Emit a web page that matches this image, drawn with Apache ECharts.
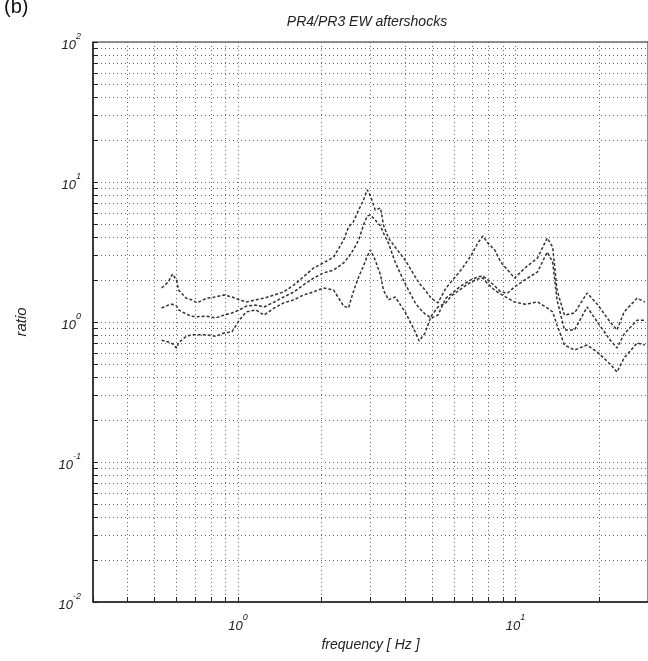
<!DOCTYPE html>
<html><head><meta charset="utf-8">
<script src="https://cdn.jsdelivr.net/npm/echarts@6/dist/echarts.min.js"></script>
<style>html,body{margin:0;padding:0;background:#fff}#c{width:648px;height:661px}</style>
</head><body><div id="c"></div>
<script>
// frequency (Hz)
const freq = [0.53,0.56,0.58,0.60,0.61,0.65,0.68,0.71,0.77,0.83,0.89,0.95,1.01,1.07,1.16,1.24,1.35,1.46,1.59,1.72,1.87,2.03,2.21,2.40,2.50,2.60,2.72,2.83,2.92,3.00,3.12,3.26,3.34,3.48,3.68,4.00,4.35,4.49,4.72,4.96,5.25,5.61,5.85,6.35,6.90,7.31,7.62,7.94,8.41,8.84,9.36,9.92,10.8,12.0,13.0,13.6,14.1,15.0,16.3,18.1,19.7,21.9,23.2,24.6,27.4,29.2];
// spectral ratio curves
const ratioA = [1.75,1.93,2.20,2.00,1.69,1.48,1.44,1.37,1.48,1.51,1.56,1.51,1.44,1.39,1.44,1.48,1.56,1.64,1.84,2.10,2.43,2.64,2.91,3.85,4.77,5.18,6.31,7.44,8.80,7.94,6.31,6.52,4.93,3.98,3.43,2.77,2.10,1.90,1.69,1.48,1.37,1.75,1.93,2.35,2.96,3.67,4.11,3.67,3.27,2.68,2.35,2.06,2.43,2.87,3.98,3.43,1.69,1.12,1.16,1.61,1.34,1.00,0.877,1.18,1.48,1.39];
const ratioB = [1.26,1.32,1.34,1.30,1.22,1.14,1.10,1.09,1.10,1.07,1.12,1.16,1.22,1.30,1.32,1.28,1.39,1.51,1.64,1.84,2.06,2.24,2.35,2.64,2.91,3.27,3.85,4.93,5.72,5.81,5.35,4.85,4.32,3.67,2.68,1.87,1.37,1.26,1.14,1.07,1.12,1.48,1.58,1.81,2.00,2.10,2.13,2.00,1.81,1.64,1.61,1.78,2.00,2.28,3.16,2.68,1.44,0.877,0.877,1.28,1.00,0.744,0.652,0.821,1.03,1.03];
const ratioC = [0.74,0.72,0.70,0.65,0.71,0.79,0.81,0.81,0.81,0.79,0.835,0.85,1.03,1.18,1.22,1.12,1.26,1.37,1.44,1.56,1.64,1.75,1.69,1.30,1.26,1.64,2.10,2.51,2.96,3.27,2.77,2.17,1.69,1.44,1.51,1.18,0.848,0.732,0.835,1.10,1.28,1.37,1.53,1.72,1.93,2.03,2.06,1.87,1.69,1.58,1.48,1.39,1.34,1.39,1.26,1.18,0.952,0.685,0.631,0.685,0.61,0.501,0.439,0.553,0.708,0.685];
// ticks / gridlines
const xTickValues = [0.3,0.4,0.5,0.6,0.7,0.8,0.9,1,2,3,4,5,6,7,8,9,10,20,30];
const yTickValues = [0.01,0.02,0.03,0.04,0.05,0.06,0.07,0.08,0.09,0.1,0.2,0.3,0.4,0.5,0.6,0.7,0.8,0.9,1,2,3,4,5,6,7,8,9,10,20,30,40,50,60,70,80,90,100];
const xLabelValues = [1, 10];
const yLabelValues = [0.01, 0.1, 1, 10, 100];

const fontFam = '"Liberation Sans", Arial, sans-serif';
function supLabel(v) {
  const e = Math.round(Math.log10(v));
  return '{b|10}{s|' + e + '}';
}
const rich = {
  b: {fontSize: 13, fontStyle: 'italic', fontFamily: fontFam, color: '#222', lineHeight: 20, verticalAlign: 'bottom'},
  s: {fontSize: 9, fontStyle: 'italic', fontFamily: fontFam, color: '#222', lineHeight: 20, verticalAlign: 'top'}
};
function pairs(ys) { return freq.map((f, i) => [f, ys[i]]); }
const lineStyle = {color: '#333', width: 1.5, type: [3, 2]};
const gridLine = {show: true, lineStyle: {type: [1, 3], color: '#666', width: 1}};

const chart = echarts.init(document.getElementById('c'), null, {renderer: 'canvas'});
chart.setOption({
  animation: false,
  backgroundColor: '#fff',
  graphic: [
    {type: 'text', x: 367, y: 22, style: {text: 'PR4/PR3 EW aftershocks', font: 'italic 14px ' + fontFam, fill: '#222', align: 'center', verticalAlign: 'middle'}},
    {type: 'text', x: 4, y: 7, style: {text: '(b)', font: '20px ' + fontFam, fill: '#111', align: 'left', verticalAlign: 'middle'}}
  ],
  grid: {left: 93, top: 42, width: 558, height: 560, show: true, borderColor: '#222', borderWidth: 1},
  xAxis: {
    type: 'log', logBase: 10, min: 0.3, max: 30,
    name: 'frequency [ Hz ]', nameLocation: 'middle', nameGap: 36,
    nameTextStyle: {fontSize: 14, fontStyle: 'italic', fontFamily: fontFam, color: '#222'},
    axisLine: {show: true, onZero: false, lineStyle: {color: '#222', width: 1.5}},
    axisTick: {show: true, inside: true, length: 5, customValues: xTickValues, lineStyle: {color: '#222'}},
    axisLabel: {customValues: xLabelValues, formatter: supLabel, rich: rich, margin: 11},
    splitLine: gridLine,
    minorTick: {show: false}, minorSplitLine: {show: false}
  },
  yAxis: {
    type: 'log', logBase: 10, min: 0.01, max: 100,
    name: 'ratio', nameLocation: 'middle', nameGap: 64, nameRotate: 90,
    nameTextStyle: {fontSize: 15, fontStyle: 'italic', fontFamily: fontFam, color: '#222'},
    axisLine: {show: true, onZero: false, lineStyle: {color: '#222', width: 1.5}},
    axisTick: {show: true, inside: true, length: 5, customValues: yTickValues, lineStyle: {color: '#222'}},
    axisLabel: {customValues: yLabelValues, formatter: supLabel, rich: rich, margin: 12},
    splitLine: gridLine,
    minorTick: {show: false}, minorSplitLine: {show: false}
  },
  series: [
    {type: 'line', data: pairs(ratioA), showSymbol: false, symbol: 'none', lineStyle: lineStyle, silent: true},
    {type: 'line', data: pairs(ratioB), showSymbol: false, symbol: 'none', lineStyle: lineStyle, silent: true},
    {type: 'line', data: pairs(ratioC), showSymbol: false, symbol: 'none', lineStyle: lineStyle, silent: true}
  ]
});
</script></body></html>
